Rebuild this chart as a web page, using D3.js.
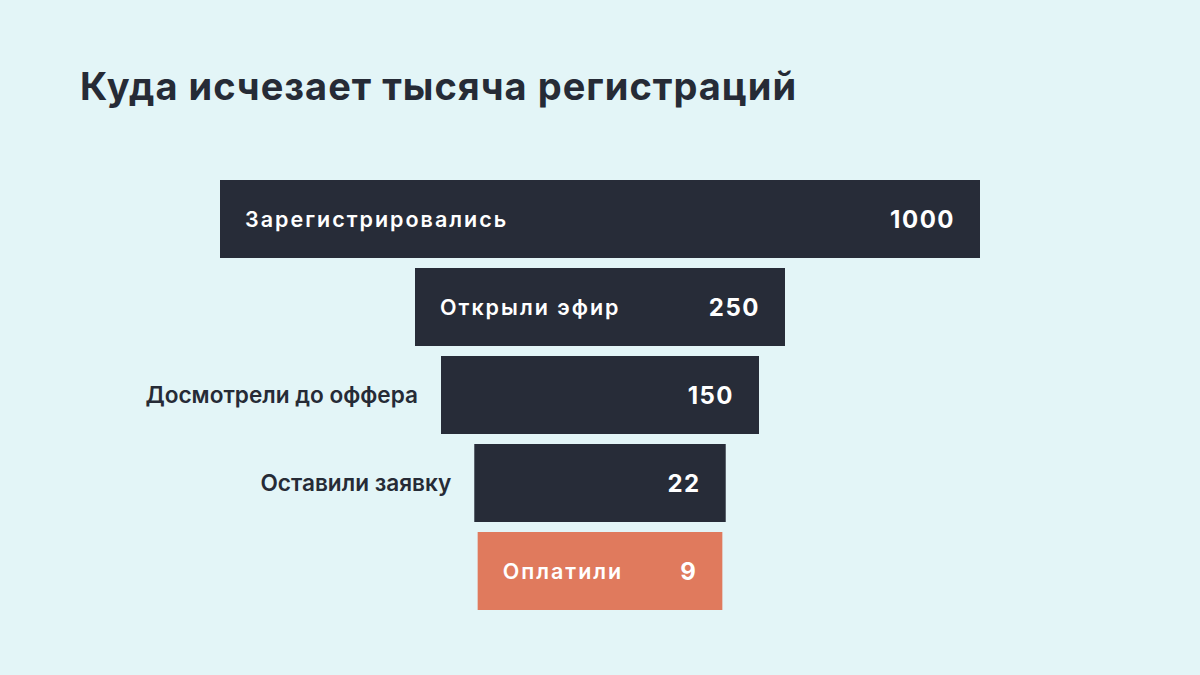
<!DOCTYPE html>
<html>
<head>
<meta charset="utf-8">
<script src="https://cdn.jsdelivr.net/npm/d3@7"></script>
<style>
  html, body { margin: 0; padding: 0; background: #e3f5f7; }
  svg { display: block; }
</style>
</head>
<body>
<svg id="chart" width="1200" height="675"></svg>
<script>
const title = "Куда исчезает тысяча регистраций";
const categories = ["Зарегистрировались", "Открыли эфир", "Досмотрели до оффера", "Оставили заявку", "Оплатили"];
const values = [1000, 250, 150, 22, 9];
const highlight = ["Оплатили"];

const W = 1200, H = 675, cx = 600;
const bg = "#e3f5f7", dark = "#272c38", accent = "#e07a5d", textDark = "#262b36";

const svg = d3.select("#chart");
svg.append("rect").attr("width", W).attr("height", H).attr("fill", bg);

svg.append("text")
  .attr("x", 80).attr("y", 100)
  .attr("font-family", "Inter, sans-serif")
  .attr("font-weight", 700)
  .attr("font-size", 38)
  .attr("letter-spacing", 1)
  .attr("fill", textDark)
  .text(title);

const y = d3.scaleBand().domain(categories).range([175, 615]).paddingInner(10/88).paddingOuter(5/88);
const w = d3.scaleLinear().domain([0, 1000]).range([240, 760]);

const data = categories.map((c, i) => ({ cat: c, val: values[i] }));
const pad = 25;

const g = svg.append("g");
const rows = g.selectAll("g.row").data(data).join("g").attr("class", "row");

rows.append("rect")
  .attr("x", d => cx - w(d.val) / 2)
  .attr("y", d => y(d.cat))
  .attr("width", d => w(d.val))
  .attr("height", y.bandwidth())
  .attr("fill", d => highlight.includes(d.cat) ? accent : dark);

const vals = rows.append("text")
  .attr("x", d => cx + w(d.val) / 2 - pad)
  .attr("y", d => y(d.cat) + y.bandwidth() / 2)
  .attr("dy", "0.36em")
  .attr("text-anchor", "end")
  .attr("font-family", "Inter, sans-serif")
  .attr("font-weight", 700)
  .attr("font-size", 24)
  .attr("letter-spacing", 1.5)
  .attr("fill", "#ffffff")
  .text(d => d.val);

const labels = rows.append("text")
  .attr("y", d => y(d.cat) + y.bandwidth() / 2)
  .attr("dy", "0.36em")
  .attr("font-family", "Inter, sans-serif")
  .attr("font-weight", 600)
  .attr("font-size", 21.5)
  .attr("letter-spacing", 2)
  .text(d => d.cat);

labels.each(function(d, i) {
  const lw = this.getComputedTextLength();
  const vw = vals.nodes()[i].getComputedTextLength();
  const bw = w(d.val);
  const left = cx - bw / 2;
  const sel = d3.select(this);
  if (lw + vw + pad * 2 + 20 <= bw) {
    sel.attr("x", left + pad).attr("text-anchor", "start").attr("fill", "#ffffff");
  } else {
    sel.attr("x", left - 23).attr("text-anchor", "end").attr("fill", textDark)
      .attr("letter-spacing", 0).attr("font-size", 22.6);
  }
});
</script>
</body>
</html>
